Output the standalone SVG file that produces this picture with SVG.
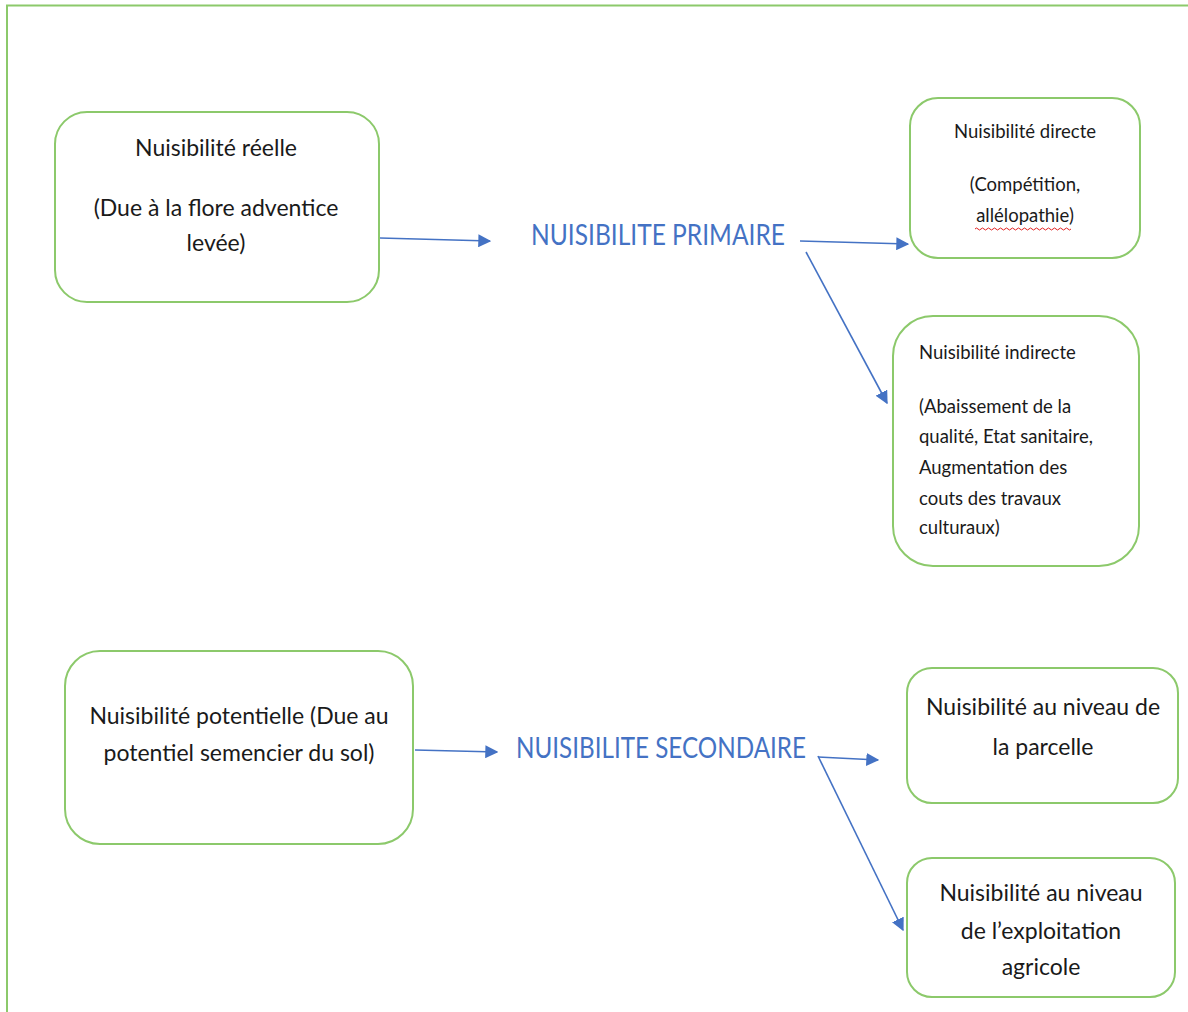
<svg xmlns="http://www.w3.org/2000/svg" width="1188" height="1012" viewBox="0 0 1188 1012">
<defs>
<style>
.box{fill:#fff;stroke:#8cc96b;stroke-width:2}
.t{font-family:Lato,"Open Sans","Liberation Sans",sans-serif;fill:#1a1a1a}
.big{font-size:23px}
.sm{font-size:18.5px}
.title{font-family:Lato,"Liberation Sans",sans-serif;font-size:29px;fill:#4472c4}
.conn{stroke:#4472c4;stroke-width:1.6;fill:none;marker-end:url(#ah)}
</style>
<marker id="ah" viewBox="0 0 10 10" refX="9" refY="5" markerWidth="13" markerHeight="13" markerUnits="userSpaceOnUse" orient="auto">
<path d="M0,0 L10,5 L0,10 z" fill="#4472c4"/>
</marker>
</defs>
<rect width="1188" height="1012" fill="#fff"/>
<path d="M7,1012 V5.5 H1188" fill="none" stroke="#8cc96b" stroke-width="2"/>

<g id="connectors">
<line class="conn" x1="380" y1="238" x2="490" y2="241"/>
<line class="conn" x1="800" y1="241" x2="908" y2="244"/>
<line class="conn" x1="806" y1="252" x2="887" y2="403"/>
<line class="conn" x1="415" y1="750" x2="497" y2="752"/>
<line class="conn" x1="818" y1="757" x2="878" y2="760"/>
<line class="conn" x1="818" y1="756" x2="903" y2="930"/>
</g>

<g id="reelle">
<rect class="box" x="55" y="112" width="324" height="190" rx="32"/>
<text class="t big" text-anchor="middle" x="216" y="156">Nuisibilité réelle</text>
<text class="t big" text-anchor="middle" x="216" y="216">(Due à la flore adventice</text>
<text class="t big" text-anchor="middle" x="216" y="251">levée)</text>
</g>

<g id="primaire">
<text class="title" x="531" y="245" textLength="254" lengthAdjust="spacingAndGlyphs">NUISIBILITE PRIMAIRE</text>
</g>

<g id="directe">
<rect class="box" x="910" y="98" width="230" height="160" rx="28"/>
<text class="t sm" text-anchor="middle" x="1025" y="138">Nuisibilité directe</text>
<text class="t sm" text-anchor="middle" x="1025" y="191">(Compétition,</text>
<text class="t sm" text-anchor="middle" x="1025" y="222">allélopathie)</text>
<path d="M975,229 q1.5,-2 3,0 t3,0 t3,0 t3,0 t3,0 t3,0 t3,0 t3,0 t3,0 t3,0 t3,0 t3,0 t3,0 t3,0 t3,0 t3,0 t3,0 t3,0 t3,0 t3,0 t3,0 t3,0 t3,0 t3,0 t3,0 t3,0 t3,0 t3,0 t3,0 t3,0 t3,0 t3,0" fill="none" stroke="#e02020" stroke-width="1"/>
</g>

<g id="indirecte">
<rect class="box" x="893" y="316" width="246" height="250" rx="40"/>
<text class="t sm" x="919" y="359">Nuisibilité indirecte</text>
<text class="t sm" x="919" y="413">(Abaissement de la</text>
<text class="t sm" x="919" y="443">qualité, Etat sanitaire,</text>
<text class="t sm" x="919" y="474">Augmentation des</text>
<text class="t sm" x="919" y="505">couts des travaux</text>
<text class="t sm" x="919" y="534">culturaux)</text>
</g>

<g id="potentielle">
<rect class="box" x="65" y="651" width="348" height="193" rx="35"/>
<text class="t big" text-anchor="middle" x="239" y="724">Nuisibilité potentielle (Due au</text>
<text class="t big" text-anchor="middle" x="239" y="761">potentiel semencier du sol)</text>
</g>

<g id="secondaire">
<text class="title" x="516" y="758" textLength="290" lengthAdjust="spacingAndGlyphs">NUISIBILITE SECONDAIRE</text>
</g>

<g id="parcelle">
<rect class="box" x="907" y="668" width="271" height="135" rx="25"/>
<text class="t big" text-anchor="middle" x="1043" y="715">Nuisibilité au niveau de</text>
<text class="t big" text-anchor="middle" x="1043" y="755">la parcelle</text>
</g>

<g id="exploitation">
<rect class="box" x="907" y="858" width="268" height="139" rx="25"/>
<text class="t big" text-anchor="middle" x="1041" y="901">Nuisibilité au niveau</text>
<text class="t big" text-anchor="middle" x="1041" y="939">de l’exploitation</text>
<text class="t big" text-anchor="middle" x="1041" y="975">agricole</text>
</g>
</svg>
